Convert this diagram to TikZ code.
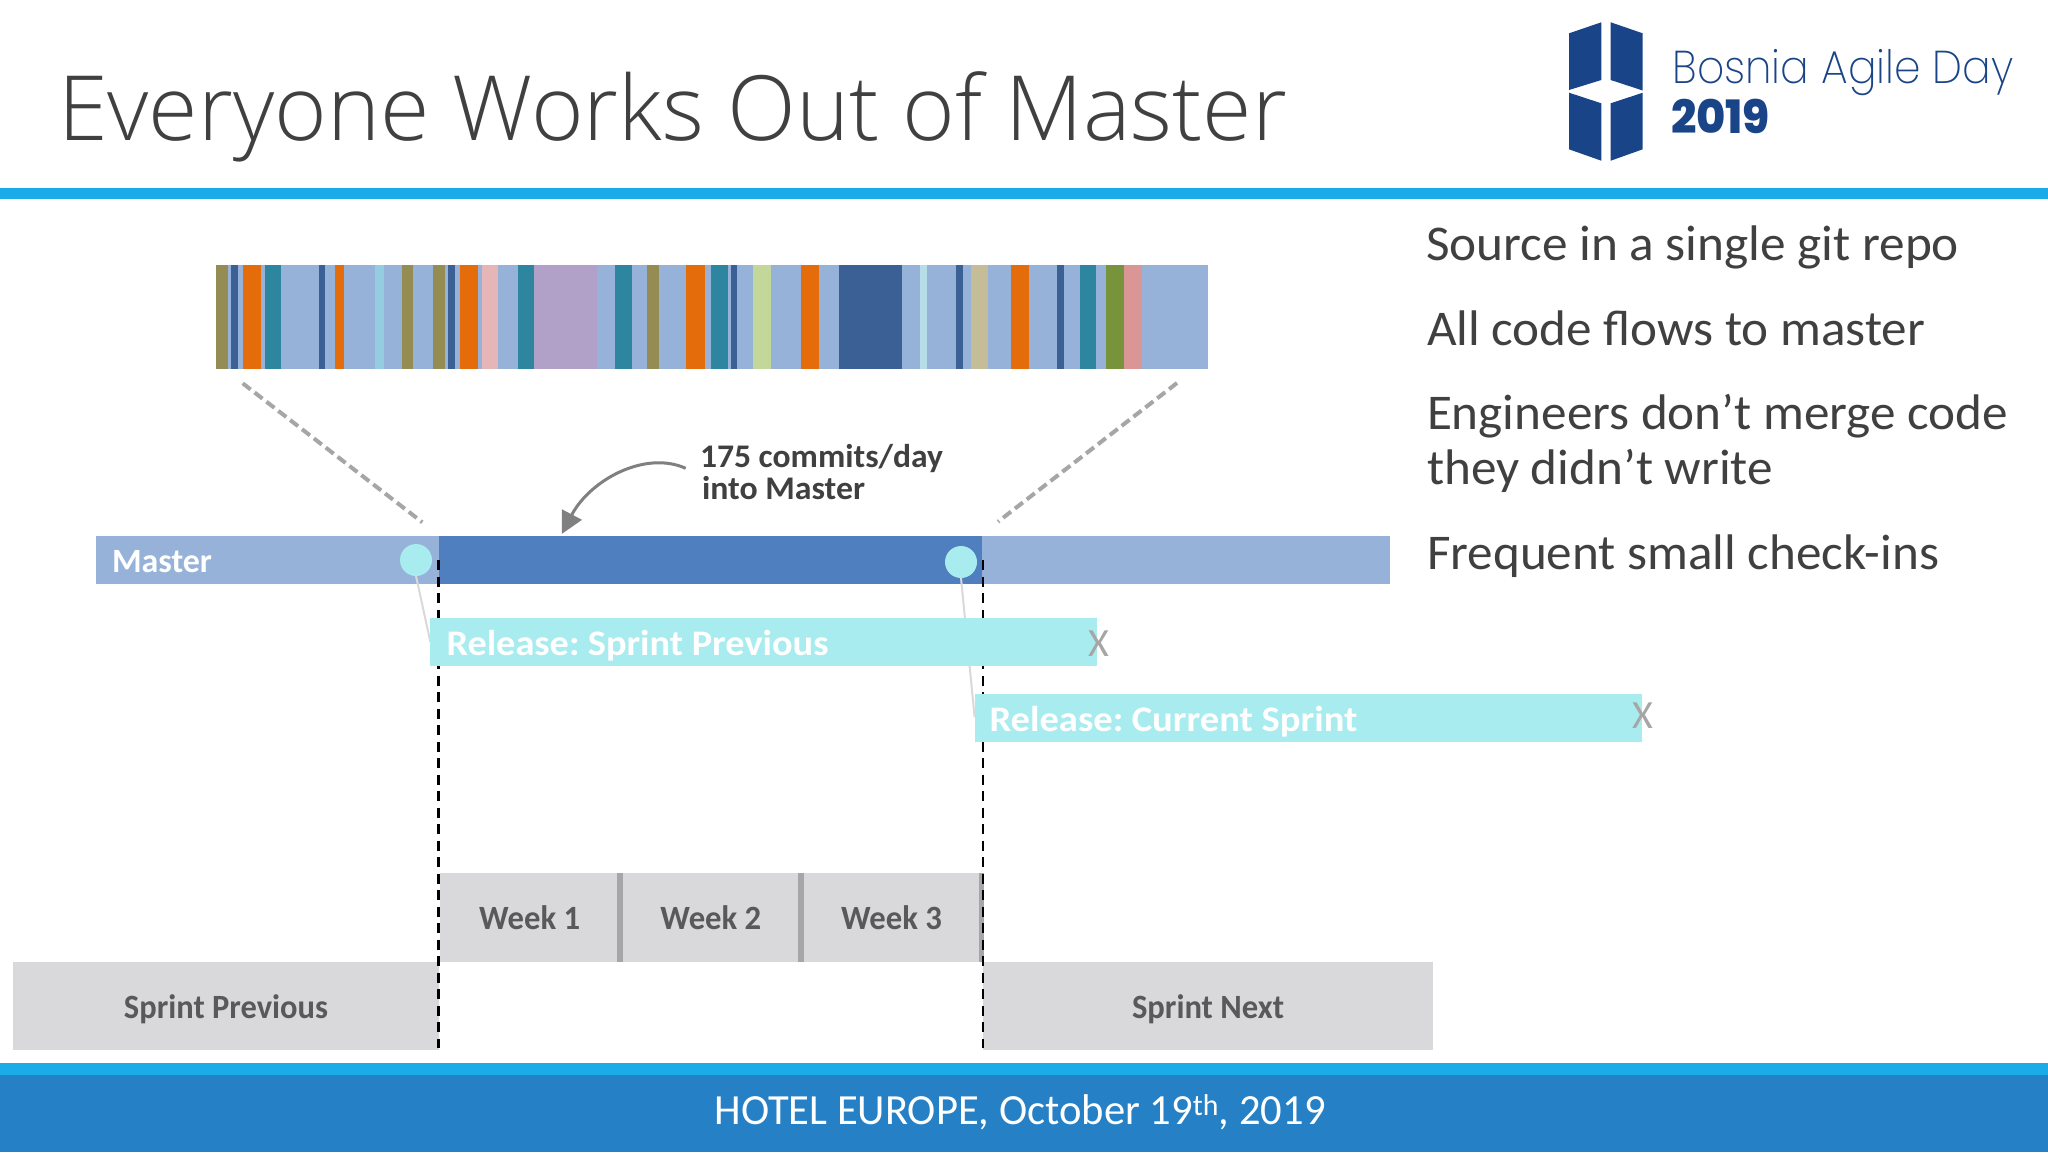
\documentclass[tikz,border=0pt]{standalone}
\usepackage{fontspec}
\usepackage{graphicx}
\usetikzlibrary{arrows.meta}
\setmainfont{Carlito}
\newfontfamily\titlefont{Open Sans Light}
\newfontfamily\logofont{Poppins ExtraLight}
\newfontfamily\yearfont{Poppins ExtraBold}
\definecolor{ribbon}{HTML}{1BABE8}
\definecolor{footerblue}{HTML}{2680C5}
\definecolor{inktext}{HTML}{404040}
\definecolor{greytext}{HTML}{595959}
\definecolor{xgrey}{HTML}{A6A6A6}
\definecolor{logoblue}{HTML}{1A4488}
\definecolor{paleblue}{HTML}{97B2D9}
\definecolor{midblue}{HTML}{4F7FBE}
\definecolor{aqua}{HTML}{A9ECEF}
\definecolor{boxgrey}{HTML}{D9D8DB}
\definecolor{sepgrey}{HTML}{A6A5A8}
\definecolor{olive}{HTML}{948C52}
\definecolor{navy}{HTML}{3A6095}
\definecolor{ochre}{HTML}{E46C0A}
\definecolor{teal2}{HTML}{2E859F}
\definecolor{skyb}{HTML}{93CDDF}
\definecolor{pinkb}{HTML}{E6B5B8}
\definecolor{purpleb}{HTML}{B1A0C7}
\definecolor{lime}{HTML}{C4D79B}
\definecolor{paleaq}{HTML}{B7DEE8}
\definecolor{khaki}{HTML}{C4BD97}
\definecolor{leaf}{HTML}{77933C}
\definecolor{rose}{HTML}{D99694}
\newcommand{\fitw}[2]{\resizebox{#1pt}{\height}{#2}}
\tikzset{
 lbl/.style={inner sep=0pt,outer sep=0pt,anchor=base west},
 mid/.style={inner sep=0pt,outer sep=0pt,anchor=base},
 body/.style={lbl,text=inktext,font=\fontsize{50}{54}\selectfont},
 boxlbl/.style={mid,text=greytext,font=\bfseries\fontsize{34}{40}\selectfont},
 rel/.style={lbl,text=white,font=\bfseries\fontsize{36}{40}\selectfont},
 xm/.style={mid,text=xgrey,font=\fontsize{40}{40}\selectfont},
 guide/.style={draw=black,line width=2.2pt,dash pattern=on 10pt off 6.5pt},
 zoomline/.style={draw=xgrey,line width=4pt,dash pattern=on 10pt off 5pt},
 tie/.style={draw=boxgrey,line width=2pt},
 dot/.style={circle,fill=aqua,minimum size=32pt,inner sep=0pt,outer sep=0pt},
}
\begin{document}
\begin{tikzpicture}[x=1pt,y=-1pt]
\useasboundingbox (0,0) rectangle (2048,1152);
\fill[white] (0,0) rectangle (2048,1152);
% header
\fill[ribbon] (0,188) rectangle (2048,199);
\node[lbl,text=inktext,font=\titlefont\fontsize{90}{100}\selectfont] (title) at (58,140) {\fitw{1229}{Everyone Works Out of Master}};
% logo
\fill[logoblue] (1569,33.3) -- (1601.3,22.3) -- (1601.3,80) -- (1569,90) -- cycle;
\fill[logoblue] (1610.7,22.3) -- (1642.7,33.3) -- (1642.7,90.5) -- (1610.7,80) -- cycle;
\fill[logoblue] (1569,92.7) -- (1601.3,103.3) -- (1601.3,160.7) -- (1569,149.3) -- cycle;
\fill[logoblue] (1610.7,103.3) -- (1642.7,92.7) -- (1642.7,149.3) -- (1610.7,160.7) -- cycle;
\node[lbl,text=logoblue,font=\logofont\fontsize{46}{50}\selectfont] (logoa) at (1672.5,83.3) {\fitw{341}{Bosnia Agile Day}};
\node[lbl,text=logoblue,font=\yearfont\fontsize{46}{50}\selectfont] (logob) at (1671,133) {\fitw{99}{2019}};
% stripe
\fill[paleblue] (216,265) rectangle (1208,369.3);
\foreach \a/\b/\c in {49/84/olive,94/114/navy,129/183/ochre,194/243/teal2,356/376/navy,404/433/ochre,524/552/skyb,606/640/olive,700/735/olive,744/765/navy,780/834/ochre,846/894/pinkb,953/1002/teal2,1002/1192/purpleb,1246/1296/teal2,1341/1377/olive,1459/1514/ochre}
  \fill[\c] ({200+\a/3},265) rectangle ({200+\b/3},369.3);
\foreach \a/\b/\c in {-20/14/ochre,33/83/teal2,92/111/navy,159/213/lime,303/357/ochre,416/606/navy,660/680/paleaq,769/789/navy,813/863/khaki,934/988/ochre,1071/1091/navy,1139/1189/teal2,1218/1273/leaf,1273/1326/rose}
  \fill[\c] ({700+\a/3},265) rectangle ({700+\b/3},369.3);
% zoom guides
\coordinate (za) at (242.7,383.3);
\coordinate (zb) at (422.3,522.3);
\coordinate (zc) at (1177,383);
\coordinate (zd) at (998,521.7);
\draw[zoomline] (za) -- (zb);
\draw[zoomline] (zc) -- (zd);
% master
\fill[paleblue] (96.3,536) rectangle (1390,583.7);
\fill[midblue] (439,536) rectangle (982,583.7);
\node[lbl,text=white,font=\bfseries\fontsize{34}{40}\selectfont] (master) at (112,572) {\fitw{100}{Master}};
% guides
\coordinate (ga) at (438.5,560);
\coordinate (gb) at (438.5,1048);
\coordinate (gc) at (982.7,560);
\coordinate (gd) at (982.7,1048);
% ties + dots
\node[dot] (d1) at (416,560) {};
\node[dot] (d2) at (961,562) {};
\coordinate (t1) at (430.4,642);
\coordinate (t2) at (974.6,717);
\draw[tie] (d1.south) -- (t1);
\draw[tie] (d2.south) -- (t2);
% sprint boxes
\fill[boxgrey] (13,962) rectangle (439,1050);
\fill[boxgrey] (983,962) rectangle (1433,1050);
\fill[boxgrey] (439.5,873) rectangle (983,961.7);
\fill[sepgrey] (617,873) rectangle (623,961.7);
\fill[sepgrey] (798,873) rectangle (804,961.7);
\fill[sepgrey] (979,873) rectangle (984.4,961.7);
\draw[guide] (ga) -- (gb);
\draw[guide] (gc) -- (gd);
% releases
\fill[aqua] (430.4,618) rectangle (1097,666);
\fill[aqua] (974.6,694) rectangle (1642,741.5);
\node[rel] (r1) at (446.5,655.5) {\fitw{382}{Release:\hspace{-3pt} Sprint Previous}};
\node[rel] (r2) at (989.5,731.5) {\fitw{368}{Release:\hspace{-3pt} Current Sprint}};
\node[xm] (x1) at (1099,656) {X};
\node[xm] (x2) at (1643,728) {X};
% labels
\node[boxlbl] (w1) at (529.7,929) {\fitw{101}{Week 1}};
\node[boxlbl] (w2) at (710.8,929) {\fitw{101}{Week 2}};
\node[boxlbl] (w3) at (891.5,929) {\fitw{101}{Week 3}};
\node[boxlbl] (sp) at (226,1018) {\fitw{204}{Sprint Previous}};
\node[boxlbl] (sn) at (1208,1018) {\fitw{152}{Sprint Next}};
% commits
\node[lbl,text=inktext,font=\bfseries\fontsize{33}{40}\selectfont] (c1) at (700,467) {\fitw{243}{175 commits/day}};
\node[lbl,text=inktext,font=\bfseries\fontsize{33}{40}\selectfont] (c2) at (702,499) {\fitw{163}{into Master}};
\coordinate (ca) at (685.7,468.3);
\coordinate (cb) at (561.7,534);
\draw[draw=black!50,line width=3pt,-{Triangle[length=22pt,width=22pt,fill=black!50]}] (ca) .. controls (645,450) and (590,480) .. (cb);
% right text
\node[body] (b1) at (1426,260) {\fitw{533}{Source in a single git repo}};
\node[body] (b2) at (1427,345) {\fitw{498}{All code flows to master}};
\node[body] (b3) at (1427,429) {\fitw{581}{Engineers don’t merge code}};
\node[body] (b4) at (1427,484) {\fitw{346}{they didn’t write}};
\node[body] (b5) at (1427,569) {\fitw{512}{Frequent small check-ins}};
% footer
\fill[ribbon] (0,1063) rectangle (2048,1075);
\fill[footerblue] (0,1075) rectangle (2048,1152);
\node[lbl,text=white,font=\fontsize{43}{45}\selectfont] (foot) at (714.5,1124.5) {\fitw{611}{HOTEL EUROPE, October 19\textsuperscript{th}, 2019}};
\end{tikzpicture}
\end{document}
